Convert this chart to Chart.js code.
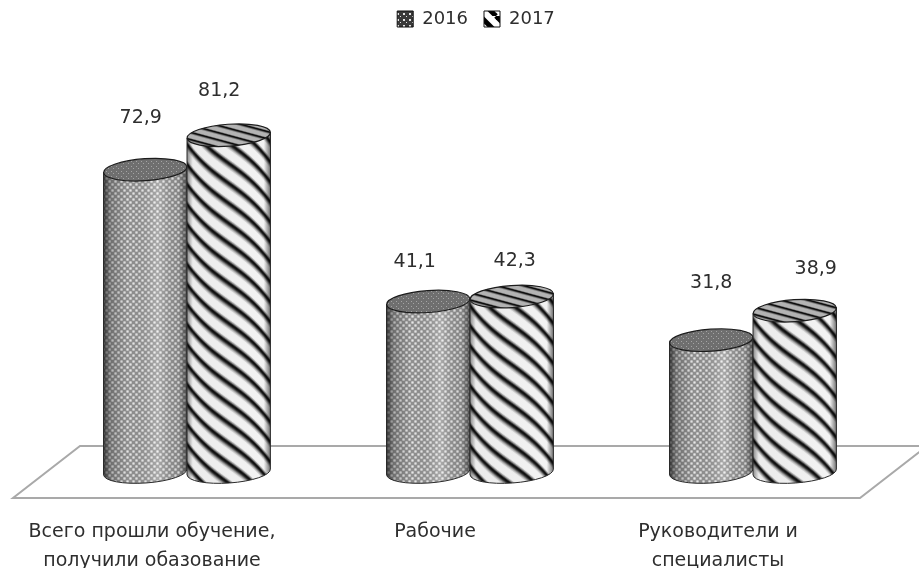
<!DOCTYPE html>
<html><head><meta charset="utf-8">
<style>html,body{margin:0;padding:0;background:#fff}#w{width:919px;height:568px}</style>
<script src="https://cdn.jsdelivr.net/npm/chart.js@4"></script></head>
<body><div id="w"><canvas id="c"></canvas></div>
<script>
const categories = [["Всего прошли обучение,","получили обазование"],"Рабочие",["Руководители и","специалисты"]];
const seriesNames = ["2016","2017"];
const values2016 = [72.9,41.1,31.8];
const values2017 = [81.2,42.3,38.9];

const TEXT='#2e2e2e', FONT='"DejaVu Sans"';
const valueNudge=[[[-4.5,-51.5],[-13.5,-39.5],[0,-57]],[[-9.5,-44],[3,-35.5],[21,-41.5]]];
const RY=11, TILT=-4*Math.PI/180;

function tile(w,h,draw){const t=document.createElement('canvas');t.width=w;t.height=h;draw(t.getContext('2d'),w,h);return t;}
const dotTile=tile(6,6,(g,w,h)=>{g.fillStyle='#939393';g.fillRect(0,0,w,h);
  const dot=(x,y)=>{const r=g.createRadialGradient(x,y,0,x,y,1.9);r.addColorStop(0,'rgba(236,236,236,1)');r.addColorStop(.6,'rgba(220,220,220,.75)');r.addColorStop(1,'rgba(220,220,220,0)');g.fillStyle=r;g.fillRect(x-3,y-3,6,6);};
  dot(1.5,1.5);dot(4.5,4.5);dot(-1.5,4.5);dot(7.5,1.5);dot(4.5,-1.5);dot(1.5,7.5);});
const capDotTile=tile(5,5,(g,w,h)=>{g.fillStyle='#6f6f6f';g.fillRect(0,0,w,h);g.fillStyle='#a4a4a4';g.fillRect(1,1,1,1);g.fillRect(3,3,1,1);});
const stripeTile=tile(2,20,(g,w,h)=>{const l=g.createLinearGradient(0,0,0,h);
  l.addColorStop(0,'#0d0d0d');l.addColorStop(.1,'#181818');l.addColorStop(.26,'#b4b4b4');l.addColorStop(.38,'#f8f8f8');l.addColorStop(.82,'#f8f8f8');l.addColorStop(.94,'#777');l.addColorStop(1,'#0d0d0d');g.fillStyle=l;g.fillRect(0,0,w,h);});
const legendDot=tile(6,6,(g,w,h)=>{g.fillStyle='#3a3a3a';g.fillRect(0,0,w,h);g.fillStyle='#e4e4e4';g.fillRect(1,1,2,2);g.fillRect(4,4,1,1);});
const legendStripe=tile(16,16,(g,w,h)=>{g.fillStyle='#fff';g.fillRect(0,0,w,h);g.strokeStyle='#000';g.lineWidth=5;
  for(const d of [-16,0,16]){g.beginPath();g.moveTo(d,0);g.lineTo(d+16,16);g.stroke();}});
const ctx0=document.createElement('canvas').getContext('2d');
const barDots=ctx0.createPattern(dotTile,'repeat');
const barStripes=ctx0.createPattern(stripeTile,'repeat');

function body(b){
  const R=b.width/2,cx=b.x,dy=R*Math.sin(-TILT);
  const p=new Path2D();
  p.moveTo(cx-R,b.y+dy);p.lineTo(cx-R,b.base+dy);
  p.ellipse(cx,b.base,R,RY,TILT,Math.PI,0,true);
  p.lineTo(cx+R,b.y-dy);p.closePath();return p;
}
function paintColumns(ctx,b,pat,slope,y0){
  const R=b.width/2;
  for(let x=Math.floor(b.x-R);x<b.x+R;x++){
    const d=x+.5-b.x,u=d/R;
    ctx.save();
    ctx.translate(x,y0+slope*d*(1+.3*u*u));
    ctx.fillStyle=pat;ctx.fillRect(0,-1000,1,2000);
    ctx.restore();
  }
}
function paintCylinder(ctx,b,idx){
  const R=b.width/2,p=body(b);
  ctx.save();ctx.clip(p);
  if(idx===0){ctx.fillStyle=barDots;ctx.fill(p);}
  else{ctx.fillStyle='#fff';ctx.fill(p);paintColumns(ctx,b,barStripes,.72,b.y+7);}
  const g=ctx.createLinearGradient(b.x-R,0,b.x+R,0);
  if(idx===0){g.addColorStop(0,'rgba(0,0,0,.65)');g.addColorStop(.08,'rgba(0,0,0,.25)');g.addColorStop(.3,'rgba(0,0,0,.02)');g.addColorStop(.65,'rgba(255,255,255,.22)');g.addColorStop(.9,'rgba(0,0,0,.08)');g.addColorStop(1,'rgba(0,0,0,.5)');}
  else{g.addColorStop(0,'rgba(0,0,0,.45)');g.addColorStop(.07,'rgba(0,0,0,.05)');g.addColorStop(.92,'rgba(0,0,0,.02)');g.addColorStop(1,'rgba(0,0,0,.55)');}
  ctx.fillStyle=g;ctx.fillRect(b.x-R-1,b.y-30,b.width+2,b.base-b.y+60);
  ctx.restore();
  ctx.save();ctx.strokeStyle='#2a2a2a';ctx.lineWidth=1;ctx.stroke(p);ctx.restore();
  const cap=new Path2D();cap.ellipse(b.x,b.y,R,RY,TILT,0,2*Math.PI);
  ctx.save();ctx.clip(cap);
  if(idx===0){ctx.fillStyle=ctx.createPattern(capDotTile,'repeat');ctx.fill(cap);}
  else{
    const capPat=ctx.createPattern(stripeTile,'repeat');
    ctx.fillStyle='#aaa';ctx.fill(cap);
    for(let x=Math.floor(b.x-R);x<b.x+R;x++){ctx.save();ctx.translate(x,b.y+(x-b.x)*.27);ctx.scale(1,.36);ctx.fillStyle=capPat;ctx.fillRect(0,-400,1,800);ctx.restore();}
    ctx.fillStyle='rgba(0,0,0,.28)';ctx.fill(cap);
  }
  ctx.restore();
  ctx.save();ctx.strokeStyle='#1c1c1c';ctx.lineWidth=1.2;ctx.stroke(cap);ctx.restore();
}
const cylinder={
  id:'cylinder',
  afterLayout(chart){
    const lg=chart.legend;lg.left+=6;lg.right+=6;lg.top-=6;lg.bottom-=6;
  },
  beforeDatasetsDraw(chart){
    const {ctx}=chart,y=chart.scales.y.getPixelForValue(0);
    const back=y-26,front=y+26;
    ctx.save();ctx.strokeStyle='#a9a9a9';ctx.lineWidth=2;ctx.beginPath();
    ctx.moveTo(80,back);ctx.lineTo(927,back);ctx.lineTo(860,front);ctx.lineTo(13,front);ctx.closePath();ctx.stroke();ctx.restore();
  },
  beforeDatasetDraw(chart,args){
    const u=new Path2D();args.meta.data.forEach(b=>u.addPath(body(b)));
    chart.ctx.save();chart.ctx.clip(u);
  },
  afterDatasetDraw(chart){chart.ctx.restore();},
  afterDatasetsDraw(chart){
    const {ctx}=chart;
    chart.data.datasets.forEach((d,i)=>chart.getDatasetMeta(i).data.forEach(b=>paintCylinder(ctx,b,i)));
    ctx.save();ctx.font='19px '+FONT;ctx.fillStyle=TEXT;ctx.textAlign='center';ctx.textBaseline='middle';
    chart.data.datasets.forEach((d,i)=>{
      chart.getDatasetMeta(i).data.forEach((b,j)=>{
        const n=valueNudge[i][j];
        ctx.fillText(d.data[j].toFixed(1).replace('.',','),b.x+n[0],b.y+n[1]);
      });
    });
    ctx.restore();
  }
};
new Chart(document.getElementById('c'),{
  type:'bar',
  data:{labels:categories,datasets:[
    {label:seriesNames[0],data:values2016,backgroundColor:barDots,borderWidth:0},
    {label:seriesNames[1],data:values2017,backgroundColor:barStripes,borderWidth:0}
  ]},
  plugins:[cylinder],
  options:{
    responsive:true,maintainAspectRatio:false,animation:false,
    layout:{padding:{left:45.5,right:24.5,top:0,bottom:0}},
    datasets:{bar:{categoryPercentage:.59,barPercentage:1}},
    plugins:{
      tooltip:{enabled:false},
      legend:{position:'top',align:'center',labels:{
        boxWidth:16,boxHeight:16,padding:16,color:TEXT,font:{family:FONT,size:18},
        generateLabels(chart){const c=chart.ctx;return chart.data.datasets.map((d,i)=>({text:d.label,datasetIndex:i,
          fillStyle:c.createPattern(i===0?legendDot:legendStripe,'repeat'),strokeStyle:'#111',lineWidth:1,fontColor:TEXT}));}
      }}
    },
    scales:{
      x:{grid:{display:false},border:{display:false},
        ticks:{color:TEXT,font:{family:FONT,size:19,lineHeight:1.55},padding:37.3,labelOffset:-35,maxRotation:0,autoSkip:false},
        afterFit(s){s.height=96;}},
      y:{display:false,min:0,max:103.2}
    }
  }
});
</script></body></html>
